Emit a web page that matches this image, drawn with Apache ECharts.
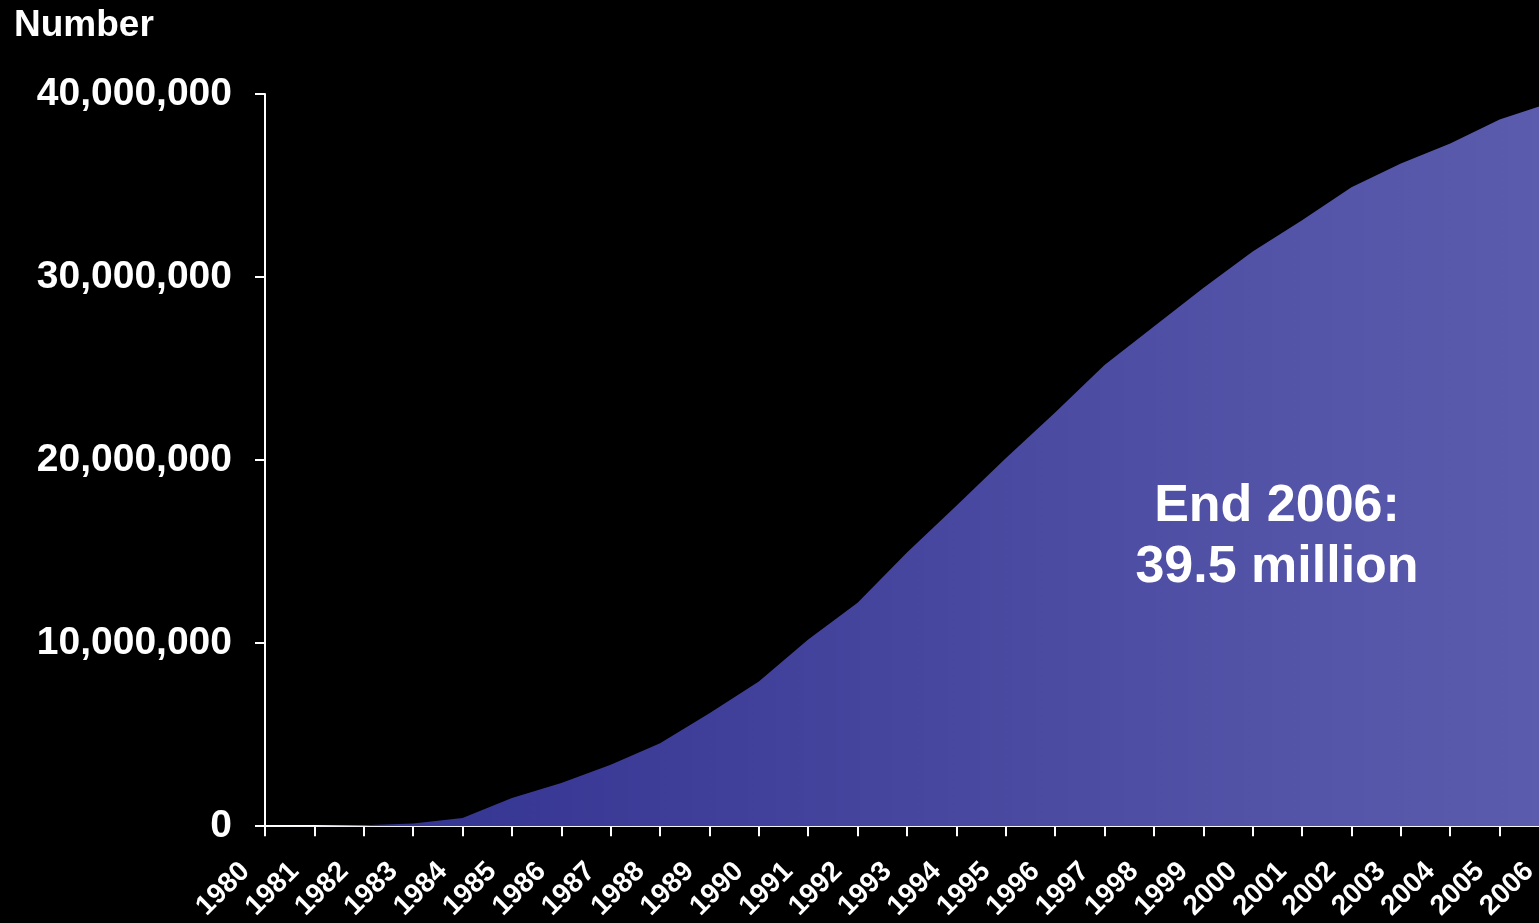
<!DOCTYPE html>
<html>
<head>
<meta charset="utf-8">
<script src="https://cdn.jsdelivr.net/npm/echarts@6/dist/echarts.min.js"></script>
<style>
html,body{margin:0;padding:0;background:#000;overflow:hidden;width:1539px;height:923px;}
#chart{width:1549px;height:923px;}
</style>
</head>
<body>
<div id="chart"></div>
<script>
var years = ['1980','1981','1982','1983','1984','1985','1986','1987','1988','1989','1990','1991','1992','1993','1994','1995','1996','1997','1998','1999','2000','2001','2002','2003','2004','2005','2006'];
var peopleLiving = [0, 10000, 50000, 150000, 450000, 1540000, 2360000, 3360000, 4530000, 6170000, 7900000, 10200000, 12200000, 14950000, 17500000, 20100000, 22600000, 25200000, 27300000, 29400000, 31400000, 33100000, 34900000, 36200000, 37300000, 38600000, 39500000];
var yTicks = [0, 10000000, 20000000, 30000000, 40000000];
var annotation = 'End 2006:\n39.5 million';
var axisTitle = 'Number';

var FONT = '"Liberation Sans", Arial, sans-serif';
var chart = echarts.init(document.getElementById('chart'));
function fmt(v){ return String(v).replace(/\B(?=(\d{3})+(?!\d))/g, ','); }

chart.setOption({
  backgroundColor: '#000000',
  animation: false,
  title: {
    text: axisTitle,
    left: 9,
    top: 2,
    textStyle: { color: '#ffffff', fontFamily: FONT, fontWeight: 'bold', fontSize: 37 }
  },
  grid: { left: 265, top: 94, bottom: 92, right: 0, containLabel: false },
  xAxis: {
    type: 'category',
    data: years,
    boundaryGap: false,
    axisLine: { lineStyle: { color: '#ffffff', width: 2 } },
    axisTick: { show: true, length: 10, interval: 0, lineStyle: { color: '#ffffff', width: 2 } },
    axisLabel: {
      interval: 0, rotate: 45, margin: 21, padding: [0, 28, 0, 0],
      color: '#ffffff', fontFamily: FONT, fontWeight: 'bold', fontSize: 28
    },
    splitLine: { show: false }
  },
  yAxis: {
    type: 'value',
    min: yTicks[0],
    max: yTicks[yTicks.length - 1],
    interval: yTicks[1] - yTicks[0],
    axisLine: { show: true, lineStyle: { color: '#ffffff', width: 2 } },
    axisTick: { show: true, length: 10, lineStyle: { color: '#ffffff', width: 2 } },
    axisLabel: {
      margin: 33, padding: [5, 0, 0, 0], color: '#ffffff', fontFamily: FONT, fontWeight: 'bold', fontSize: 39,
      formatter: function(v){ return fmt(v); }
    },
    splitLine: { show: false }
  },
  series: [{
    type: 'line',
    data: peopleLiving,
    symbol: 'none',
    smooth: false,
    lineStyle: { width: 0 },
    z: 1,
    areaStyle: {
      opacity: 1,
      color: new echarts.graphic.LinearGradient(0, 0, 1, 0, [
        { offset: 0, color: '#30308f' },
        { offset: 1, color: '#5c5cae' }
      ])
    }
  }],
  graphic: [{
    type: 'text',
    left: 1131,
    top: 476,
    z: 10,
    style: {
      text: annotation,
      fill: '#ffffff',
      font: 'bold 52px ' + FONT,
      textAlign: 'center',
      lineHeight: 61,
      width: 292
    }
  }]
});
</script>
</body>
</html>
